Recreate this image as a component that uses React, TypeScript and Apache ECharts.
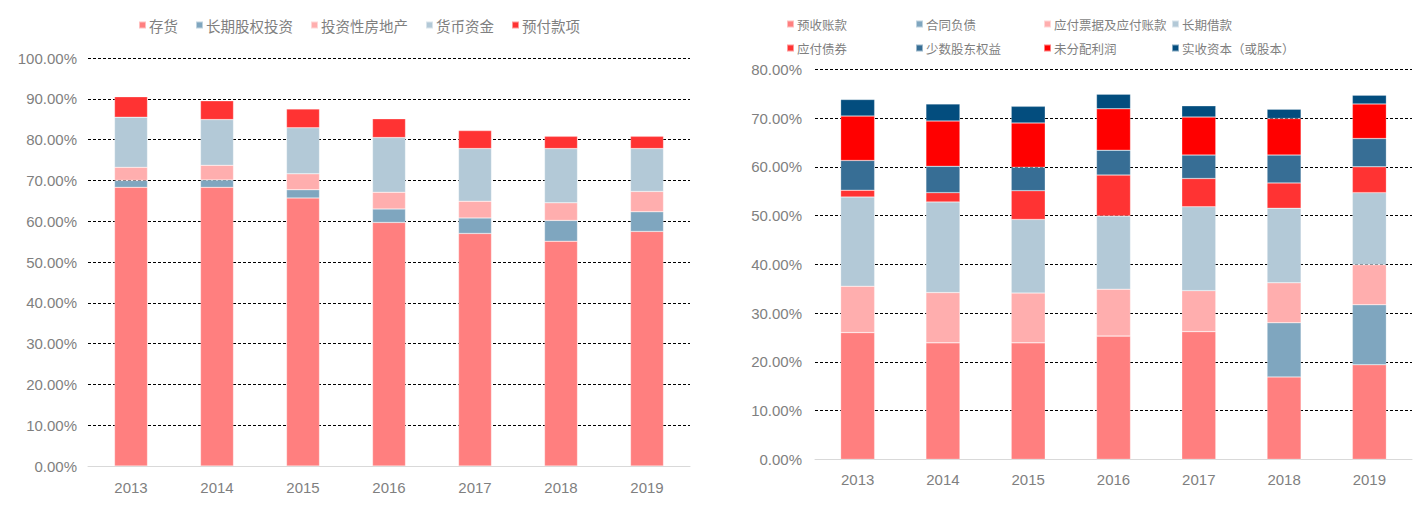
import React, { useEffect, useRef } from "react";
import * as echarts from "echarts";

const years = ["2013", "2014", "2015", "2016", "2017", "2018", "2019"];

// Left chart: asset composition (%)
const leftNames = ["存货", "长期股权投资", "投资性房地产", "货币资金", "预付款项"];
const inventory = [68.3, 68.3, 65.7, 59.7, 57.0, 55.1, 57.5];
const ltEquityInv = [1.7, 1.8, 2.0, 3.3, 3.8, 5.1, 4.8];
const investProperty = [3.2, 3.6, 3.9, 4.1, 4.1, 4.3, 5.0];
const cash = [12.3, 11.2, 11.3, 13.4, 12.9, 13.3, 10.5];
const prepayments = [5.0, 4.6, 4.6, 4.6, 4.4, 3.0, 3.0];

// Right chart: liabilities & equity composition (%)
const rightNames = ["预收账款", "合同负债", "应付票据及应付账款", "长期借款", "应付债券", "少数股东权益", "未分配利润", "实收资本（或股本）"];
const advanceReceipts = [26.0, 23.9, 23.9, 25.3, 26.2, 16.9, 19.4];
const contractLiab = [0, 0, 0, 0, 0, 11.1, 12.3];
const payables = [9.5, 10.3, 10.2, 9.6, 8.4, 8.2, 8.2];
const ltBorrowings = [18.3, 18.6, 15.1, 15.0, 17.2, 15.3, 14.8];
const bondsPayable = [1.4, 1.9, 5.9, 8.4, 5.8, 5.2, 5.3];
const minorityInterest = [6.1, 5.4, 4.8, 5.1, 4.8, 5.7, 5.8];
const retainedEarnings = [9.1, 9.3, 9.1, 8.5, 7.8, 7.5, 7.1];
const paidInCapital = [3.4, 3.5, 3.4, 3.0, 2.3, 1.9, 1.8];

const leftData = [inventory, ltEquityInv, investProperty, cash, prepayments];
const rightData = [advanceReceipts, contractLiab, payables, ltBorrowings, bondsPayable, minorityInterest, retainedEarnings, paidInCapital];

const leftColors = ["#FF7F7F", "#7FA6BF", "#FFAEAE", "#B3C9D7", "#FF3333"];
const rightColors = ["#FF7F7F", "#7FA6BF", "#FFAEAE", "#B3C9D7", "#FF3333", "#376E95", "#FF0000", "#034D7E"];

const FONT = "Liberation Sans, Arial, Noto Sans CJK SC, sans-serif";
const LEGEND_FONT = "Noto Sans CJK SC, sans-serif";
const GRAY = "#7f7f7f";

export default function App() {
  const ref = useRef<HTMLDivElement>(null);
  useEffect(() => {
    document.body.style.margin = "0";
    const chart = echarts.init(ref.current!, undefined, { renderer: "svg" });

    const yAxisCommon = (gridIndex: number, max: number, margin: number) => ({
      type: "value",
      gridIndex,
      min: 0,
      max,
      interval: 10,
      axisLine: { show: false },
      axisTick: { show: false },
      axisLabel: {
        color: GRAY,
        fontSize: 15,
        fontFamily: FONT,
        margin,
        formatter: (v: number) => v.toFixed(2) + "%",
      },
      splitLine: { lineStyle: { color: "#000", type: [3, 2], width: 1 } },
    });
    const xAxisCommon = (gridIndex: number, margin: number) => ({
      type: "category",
      gridIndex,
      data: years,
      axisLine: { lineStyle: { color: "#d9d9d9", width: 1 } },
      axisTick: { show: false },
      axisLabel: { color: GRAY, fontSize: 15, fontFamily: FONT, margin },
    });

    const series: any[] = [];
    leftNames.forEach((n, i) => {
      series.push({
        name: n,
        type: "bar",
        stack: "left",
        xAxisIndex: 0,
        yAxisIndex: 0,
        barWidth: 33,
        data: leftData[i],
        itemStyle: { color: leftColors[i], borderColor: "rgba(255,255,255,0.5)", borderWidth: 0.5 },
      });
    });
    rightNames.forEach((n, i) => {
      series.push({
        name: n,
        type: "bar",
        stack: "right",
        xAxisIndex: 1,
        yAxisIndex: 1,
        barWidth: 34,
        data: rightData[i],
        itemStyle: { color: rightColors[i], borderColor: "rgba(255,255,255,0.5)", borderWidth: 0.5 },
      });
    });

    const colX = [786, 915, 1043, 1171];
    const rightLegends = colX.map((x, c) => ({
      orient: "vertical",
      left: x,
      top: 16,
      padding: 0,
      icon: "rect",
      itemWidth: 7,
      itemHeight: 7,
      itemGap: 8,
      textStyle: { color: GRAY, fontSize: 12.5, lineHeight: 16, fontFamily: LEGEND_FONT, padding: [0, 0, 0, -2] },
      data: [rightNames[c], rightNames[c + 4]],
      selectedMode: false,
    }));

    chart.setOption({
      animation: false,
      backgroundColor: "#fff",
      legend: [
        {
          left: 138,
          top: 17,
          padding: 0,
          icon: "rect",
          itemWidth: 7,
          itemHeight: 7,
          itemGap: 17,
          textStyle: { color: GRAY, fontSize: 14.5, lineHeight: 16, fontFamily: LEGEND_FONT, padding: [0, 0, 0, -2] },
          data: leftNames,
          selectedMode: false,
        },
        ...rightLegends,
      ],
      grid: [
        { left: 88, top: 58, width: 602, height: 408 },
        { left: 815, top: 69.3, width: 597, height: 390 },
      ],
      xAxis: [xAxisCommon(0, 14), xAxisCommon(1, 13)],
      yAxis: [yAxisCommon(0, 100, 11), yAxisCommon(1, 80, 13)],
      series,
    });
    return () => chart.dispose();
  }, []);
  return <div ref={ref} style={{ width: 1422, height: 507 }} />;
}
